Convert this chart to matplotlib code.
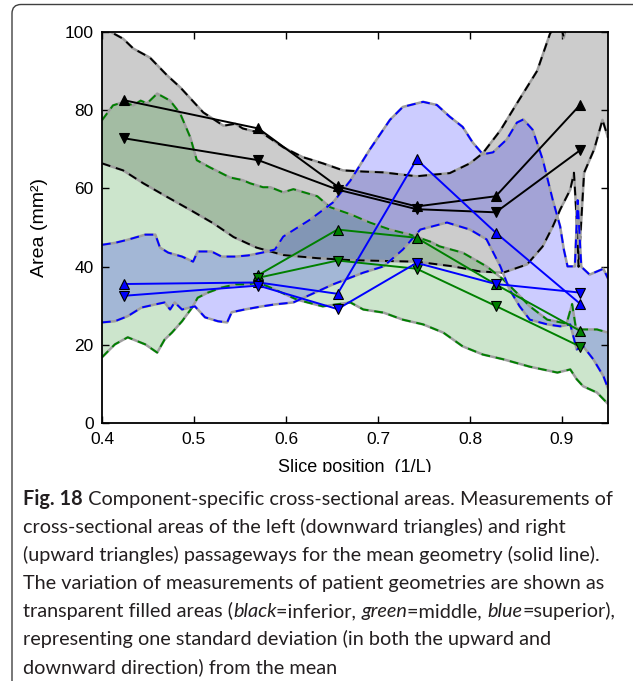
import matplotlib
matplotlib.use('Agg')
import matplotlib.pyplot as plt
import numpy as np
from matplotlib.patches import FancyBboxPatch, Rectangle
from matplotlib.transforms import IdentityTransform

# slice positions of the mean-geometry measurements
slice_x = [0.424, 0.570, 0.656, 0.742, 0.828, 0.920]
black_up = [82.5, 75.3, 60.5, 55.4, 58.0, 81.4]     # right passageway
black_down = [72.8, 67.2, 59.7, 54.7, 53.9, 69.8]   # left passageway
green_x = [0.570, 0.656, 0.742, 0.828, 0.920]
green_up = [37.9, 49.5, 47.4, 35.5, 23.6]
green_down = [37.2, 41.6, 39.5, 30.0, 19.6]
blue_up = [35.6, 36.0, 33.1, 67.4, 48.7, 30.5]
blue_down = [32.6, 35.2, 29.2, 41.0, 35.6, 33.4]

# std-dev envelopes (upper / lower edges)
black_hi_x = [0.400, 0.409, 0.423, 0.434, 0.452, 0.471, 0.485, 0.510, 0.532, 0.545, 0.553, 0.575,
              0.597, 0.618, 0.640, 0.662, 0.684, 0.705, 0.742, 0.778, 0.800, 0.814, 0.833, 0.851,
              0.873, 0.887, 0.897, 0.902, 0.907, 0.925, 0.950]
black_hi_y = [101.5, 100.0, 98.2, 95.7, 93.4, 88.8, 85.8, 79.4, 76.0, 76.5, 75.3, 74.0,
              70.5, 68.0, 66.4, 64.6, 64.3, 64.1, 63.1, 63.9, 66.4, 69.0, 74.8, 81.7,
              90.0, 99.5, 103.0, 98.5, 104.0, 108.0, 112.0]
black_lo_x = [0.400, 0.423, 0.445, 0.471, 0.496, 0.521, 0.543, 0.568, 0.597, 0.634, 0.670, 0.706,
              0.742, 0.782, 0.811, 0.836, 0.862, 0.879, 0.890, 0.898, 0.909, 0.913, 0.916, 0.918,
              0.921, 0.924, 0.935, 0.944, 0.950]
black_lo_y = [66.4, 64.6, 61.3, 57.8, 54.5, 51.1, 47.6, 44.9, 43.0, 42.2, 41.7, 41.5,
              41.3, 40.1, 38.8, 38.5, 40.6, 45.2, 50.3, 54.6, 59.7, 64.0, 52.0, 40.0,
              52.0, 64.0, 70.0, 77.5, 73.0]

green_hi_x = [0.400, 0.412, 0.423, 0.434, 0.442, 0.449, 0.460, 0.474, 0.485, 0.496, 0.503, 0.517,
              0.539, 0.553, 0.561, 0.575, 0.583, 0.597, 0.608, 0.634, 0.648, 0.670, 0.691, 0.713,
              0.735, 0.757, 0.767, 0.792, 0.818, 0.836, 0.851, 0.865, 0.884, 0.905, 0.911, 0.915,
              0.920, 0.938, 0.950]
green_hi_y = [77.4, 81.2, 82.0, 81.2, 82.4, 81.7, 84.2, 82.4, 79.1, 73.0, 67.2, 65.4,
              62.8, 62.1, 61.3, 60.3, 60.3, 59.0, 59.8, 58.0, 55.2, 53.4, 51.3, 49.5,
              48.2, 46.4, 45.2, 43.6, 40.1, 36.8, 33.3, 29.9, 26.5, 25.5, 30.5, 24.5,
              24.0, 24.0, 23.2]
green_lo_x = [0.400, 0.414, 0.428, 0.447, 0.460, 0.468, 0.476, 0.487, 0.498, 0.504, 0.515, 0.530,
              0.545, 0.559, 0.570, 0.585, 0.612, 0.640, 0.670, 0.684, 0.706, 0.727, 0.749, 0.771,
              0.792, 0.814, 0.836, 0.865, 0.895, 0.909, 0.916, 0.923, 0.938, 0.950]
green_lo_y = [16.9, 20.2, 22.0, 20.2, 18.1, 21.4, 23.2, 26.1, 29.6, 32.1, 33.4, 34.7,
              35.5, 35.5, 36.0, 34.5, 31.6, 29.9, 30.9, 29.1, 28.3, 26.5, 25.3, 23.2,
              19.7, 17.6, 16.4, 14.5, 13.0, 13.8, 11.3, 9.5, 7.9, 5.0]

blue_hi_x = [0.400, 0.414, 0.428, 0.447, 0.458, 0.463, 0.472, 0.487, 0.499, 0.504, 0.519, 0.530,
             0.545, 0.559, 0.574, 0.588, 0.597, 0.626, 0.651, 0.670, 0.691, 0.713, 0.727, 0.749,
             0.764, 0.778, 0.792, 0.803, 0.814, 0.825, 0.840, 0.851, 0.858, 0.868, 0.879, 0.890,
             0.898, 0.902, 0.906, 0.914, 0.917, 0.921, 0.930, 0.940, 0.945, 0.950]
blue_hi_y = [45.6, 46.1, 46.9, 48.2, 48.2, 44.9, 43.6, 42.6, 41.3, 43.9, 43.9, 42.6,
             42.6, 42.9, 43.6, 44.4, 47.7, 52.0, 56.4, 62.0, 69.9, 77.5, 80.8, 82.1,
             81.3, 78.3, 75.7, 71.7, 68.7, 69.2, 72.5, 76.8, 77.6, 75.0, 67.4, 57.0,
             50.3, 44.4, 40.1, 40.1, 57.0, 40.0, 38.0, 39.0, 39.5, 37.0]
blue_lo_x = [0.400, 0.414, 0.428, 0.443, 0.458, 0.468, 0.474, 0.479, 0.487, 0.501, 0.512, 0.526,
             0.536, 0.541, 0.555, 0.574, 0.588, 0.608, 0.651, 0.684, 0.706, 0.727, 0.746, 0.775,
             0.800, 0.818, 0.833, 0.843, 0.854, 0.865, 0.884, 0.898, 0.909, 0.916, 0.923, 0.934,
             0.945, 0.950]
blue_lo_y = [25.8, 26.1, 27.4, 29.6, 30.4, 30.9, 29.1, 30.9, 29.1, 29.9, 27.1, 26.1,
             25.8, 28.4, 29.1, 29.9, 30.4, 30.9, 35.5, 38.5, 40.1, 44.4, 49.5, 51.3,
             49.5, 47.0, 40.1, 34.2, 29.9, 26.5, 25.3, 24.8, 25.3, 18.9, 19.7, 16.4,
             12.1, 9.0]

W, H = 633, 681
fig = plt.figure(figsize=(W / 100, H / 100), dpi=100)
ax = fig.add_axes([102 / W, 1 - 423.5 / H, 506 / W, 391.8 / H])

bands = [(black_hi_x, black_hi_y, black_lo_x, black_lo_y, 'k'),
         (green_hi_x, green_hi_y, green_lo_x, green_lo_y, 'g'),
         (blue_hi_x, blue_hi_y, blue_lo_x, blue_lo_y, 'b')]
for hx, hy, lx, ly, c in bands:
    ax.fill(hx + lx[::-1], hy + ly[::-1], facecolor=c, alpha=0.2, edgecolor='none')
for hx, hy, lx, ly, c in bands:
    for xs, ys in [(hx, hy), (lx, ly)]:
        ax.plot(xs, ys, color='0.62', lw=1.8, solid_capstyle='round')
        ax.plot(xs, ys, color=c, lw=1.4, ls=(0, (4.5, 3)))

mk = dict(markersize=7.5, markeredgecolor='k', markeredgewidth=0.8, lw=1.4)
ax.plot(slice_x, black_up, color='k', marker='^', **mk)
ax.plot(slice_x, black_down, color='k', marker='v', **mk)
ax.plot(green_x, green_up, color='g', marker='^', **mk)
ax.plot(green_x, green_down, color='g', marker='v', **mk)
ax.plot(slice_x, blue_up, color='b', marker='^', **mk)
ax.plot(slice_x, blue_down, color='b', marker='v', **mk)

ax.set_xlim(0.4, 0.95)
ax.set_ylim(0, 100)
ax.set_xticks([0.4, 0.5, 0.6, 0.7, 0.8, 0.9])
ax.set_yticks([0, 20, 40, 60, 80, 100])
ax.tick_params(direction='in', top=True, right=True, length=5, width=1.0,
               labelsize=12.5, pad=6)
for lab in ax.get_xticklabels() + ax.get_yticklabels():
    lab.set_family('Liberation Sans')
for s in ax.spines.values():
    s.set_linewidth(1.3)
ax.set_xlabel('Slice position  (1/L)', fontsize=13, family='Liberation Sans', labelpad=8.5)
ax.set_ylabel('Area (mm²)', fontsize=14, family='Liberation Sans', labelpad=12)

# the chart image is cropped just under the axis label
fig.patches.append(Rectangle((0, 0), W, H - 472, transform=IdentityTransform(),
                             facecolor='white', edgecolor='none', zorder=5))
fig.patches.append(FancyBboxPatch((12, -30), 700, H - 4.5 + 30, transform=IdentityTransform(),
                                  boxstyle='round,pad=0,rounding_size=9',
                                  facecolor='none', edgecolor='0.25', lw=1.0, zorder=6))

cap_font = 'Lato'
caption = [
    [('Fig. 18', 'normal', 'bold'), (' Component-specific cross-sectional areas. Measurements of', 'normal', 'normal')],
    [('cross-sectional areas of the left (downward triangles) and right', 'normal', 'normal')],
    [('(upward triangles) passageways for the mean geometry (solid line).', 'normal', 'normal')],
    [('The variation of measurements of patient geometries are shown as', 'normal', 'normal')],
    [('transparent filled areas (', 'normal', 'normal'), ('black', 'italic', 'normal'),
     ('=inferior, ', 'normal', 'normal'), ('green', 'italic', 'normal'), ('=middle, ', 'normal', 'normal'),
     ('blue', 'italic', 'normal'), ('=superior),', 'normal', 'normal')],
    [('representing one standard deviation (in both the upward and', 'normal', 'normal')],
    [('downward direction) from the mean', 'normal', 'normal')],
]
baselines = [505, 533, 561, 589, 617, 645, 673]
x0, x_end = 23, 612

r = fig.canvas.get_renderer()


def advance(s, style, weight, size):
    t = fig.text(0, 0, s + '|', fontsize=size, fontstyle=style, fontweight=weight, family=cap_font)
    t2 = fig.text(0, 0, '|', fontsize=size, fontstyle=style, fontweight=weight, family=cap_font)
    w = t.get_window_extent(r).width - t2.get_window_extent(r).width
    t.remove()
    t2.remove()
    return w


base = 12.0
w1 = sum(advance(s, st, wt, base) for s, st, wt in caption[0])
size = base * (x_end - x0) / w1

for pieces, yb in zip(caption, baselines):
    x = x0
    for s, st, wt in pieces:
        fig.text(x / W, 1 - yb / H, s, fontsize=size, fontstyle=st, fontweight=wt,
                 family=cap_font, va='baseline', color='#231f20', zorder=7)
        x += advance(s, st, wt, size)

fig.savefig('out.png', dpi=100)
